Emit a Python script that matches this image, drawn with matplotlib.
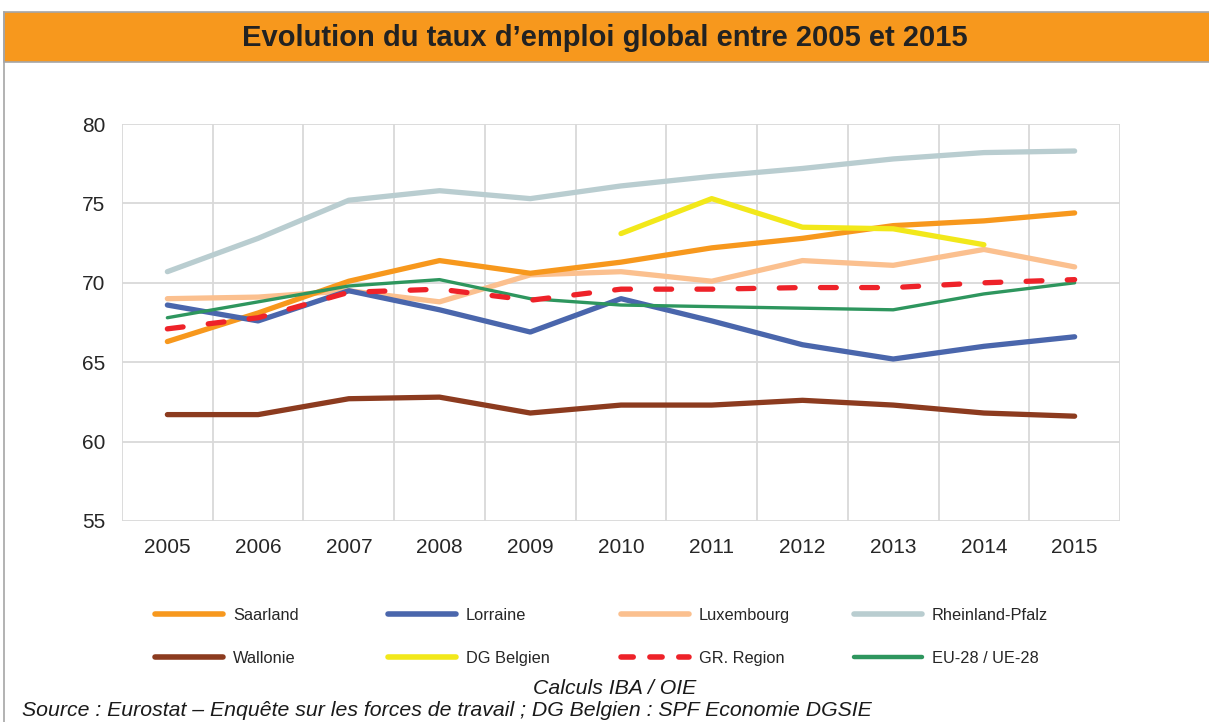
import matplotlib.pyplot as plt
from matplotlib.lines import Line2D
from matplotlib.patches import Rectangle

plt.rcParams['font.family'] = ['Liberation Sans', 'DejaVu Sans']

# Data
years = ['2005', '2006', '2007', '2008', '2009', '2010', '2011', '2012', '2013', '2014', '2015']
saarland = [66.3, 68.1, 70.1, 71.4, 70.6, 71.3, 72.2, 72.8, 73.6, 73.9, 74.4]
lorraine = [68.6, 67.6, 69.5, 68.3, 66.9, 69.0, 67.6, 66.1, 65.2, 66.0, 66.6]
luxembourg = [69.0, 69.1, 69.5, 68.8, 70.5, 70.7, 70.1, 71.4, 71.1, 72.1, 71.0]
rheinland = [70.7, 72.8, 75.2, 75.8, 75.3, 76.1, 76.7, 77.2, 77.8, 78.2, 78.3]
wallonie = [61.7, 61.7, 62.7, 62.8, 61.8, 62.3, 62.3, 62.6, 62.3, 61.8, 61.6]
dg_belgien = [None, None, None, None, None, 73.1, 75.3, 73.5, 73.4, 72.4, None]
gr_region = [67.1, 67.8, 69.4, 69.6, 68.9, 69.6, 69.6, 69.7, 69.7, 70.0, 70.2]
eu28 = [67.8, 68.8, 69.8, 70.2, 69.0, 68.6, 68.5, 68.4, 68.3, 69.3, 70.0]

names = ['Saarland', 'Lorraine', 'Luxembourg', 'Rheinland-Pfalz',
         'Wallonie', 'DG Belgien', 'GR. Region', 'EU-28 / UE-28']
series = [saarland, lorraine, luxembourg, rheinland,
          wallonie, dg_belgien, gr_region, eu28]

# styles
colors = ['#F7981D', '#4A66AC', '#FBC08F', '#B9CDD0',
          '#8C3B1F', '#F2E81A', '#EE2229', '#2E965E']
widths = [3.8, 3.8, 3.8, 3.8, 3.8, 3.8, 3.8, 2.4]
styles = ['-', '-', '-', '-', '-', '-', (0, (3.0, 4.8)), '-']
order = [3, 2, 0, 1, 4, 7, 6, 5]  # drawing order (back to front)

fig = plt.figure(figsize=(12.09, 7.22), dpi=100)

# Header band and frame
fig.patches.append(Rectangle((4 / 1209, 1 - 62 / 722), 1, 50 / 722, transform=fig.transFigure,
                             facecolor='#F7981D', edgecolor='#A6A6A6', lw=1.2))
fig.add_artist(Line2D([4 / 1209, 4 / 1209], [0, 1 - 12 / 722], transform=fig.transFigure,
                      color='#A6A6A6', lw=1.2))
fig.text(0.5, 1 - 38 / 722, 'Evolution du taux d\u2019emploi global entre 2005 et 2015',
         ha='center', va='center', fontsize=21, fontweight='bold', color='#222222')

ax = fig.add_axes([122 / 1209, 1 - 521 / 722, 998 / 1209, 397 / 722])
x = list(range(len(years)))
for i in order:
    ys = [float('nan') if v is None else v for v in series[i]]
    ax.plot(x, ys, color=colors[i], lw=widths[i], linestyle=styles[i],
            solid_capstyle='round', dash_capstyle='round', solid_joinstyle='round')

ax.set_xlim(-0.5, len(years) - 0.5)
ax.set_ylim(55, 80)
ax.set_yticks(range(55, 81, 5))
ax.set_xticks(x)
ax.set_xticklabels(years)
ax.set_xticks([i - 0.5 for i in range(len(years) + 1)], minor=True)
ax.grid(True, which='minor', axis='x', color='#D9D9D9', lw=1.3)
ax.grid(True, which='major', axis='y', color='#D9D9D9', lw=1.3)
ax.grid(False, which='major', axis='x')
ax.set_axisbelow(True)
ax.tick_params(which='both', length=0)
ax.tick_params(axis='y', labelsize=15, pad=12, colors='#262626')
ax.tick_params(axis='x', labelsize=15, pad=12, colors='#262626')
for s in ax.spines.values():
    s.set_visible(False)

# Legend laid out in a 4 x 2 grid
for i, name in enumerate(names):
    col, row = i % 4, i // 4
    x0 = (155 + col * 233) / 1209
    y0 = 1 - (614 + row * 43) / 722
    fig.add_artist(Line2D([x0, x0 + 68 / 1209], [y0, y0], transform=fig.transFigure,
                          color=colors[i], lw=4 if i != 7 else 3.2,
                          linestyle=(0, (2.2, 3.0)) if i == 6 else '-',
                          solid_capstyle='round', dash_capstyle='round'))
    fig.text(x0 + 78 / 1209, y0, name, ha='left', va='center_baseline',
             fontsize=11.8, color='#262626')

fig.text(615 / 1209, 1 - 689 / 722, 'Calculs IBA / OIE', ha='center', va='center',
         fontsize=15.3, style='italic', color='#1a1a1a')
fig.text(22 / 1209, 1 - 710 / 722,
         'Source : Eurostat \u2013 Enqu\u00eate sur les forces de travail ; DG Belgien : SPF Economie DGSIE',
         ha='left', va='center', fontsize=15.3, style='italic', color='#1a1a1a')

fig.savefig('out.png', dpi=100)
